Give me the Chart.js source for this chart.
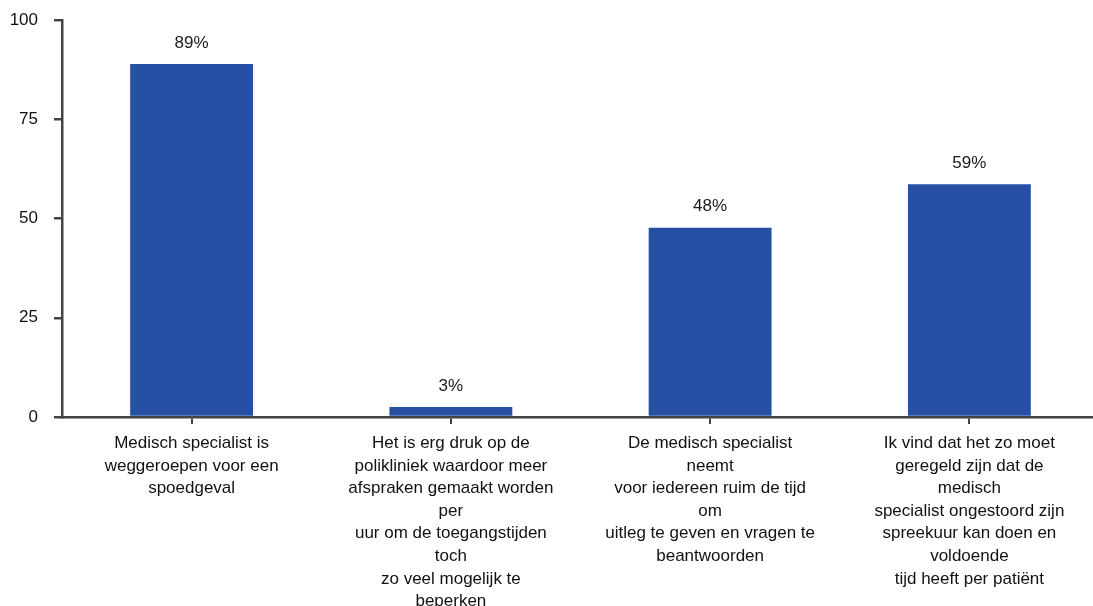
<!DOCTYPE html>
<html>
<head>
<meta charset="utf-8">
<script src="https://cdn.jsdelivr.net/npm/chart.js@4/dist/chart.umd.min.js"></script>
<style>
html,body{margin:0;padding:0;background:#fff;overflow:hidden;}
#wrap{position:relative;width:1100px;height:606px;}
</style>
</head>
<body>
<div id="wrap"><canvas id="c"></canvas></div>
<script>
const categories = [
  ["Medisch specialist is", "weggeroepen voor een", "spoedgeval"],
  ["Het is erg druk op de", "polikliniek waardoor meer", "afspraken gemaakt worden", "per", "uur om de toegangstijden", "toch", "zo veel mogelijk te", "beperken"],
  ["De medisch specialist", "neemt", "voor iedereen ruim de tijd", "om", "uitleg te geven en vragen te", "beantwoorden"],
  ["Ik vind dat het zo moet", "geregeld zijn dat de", "medisch", "specialist ongestoord zijn", "spreekuur kan doen en", "voldoende", "tijd heeft per patiënt"]
];
const values = [88.9, 2.5, 47.7, 58.6];
const yTicks = [0, 25, 50, 75, 100];

const FONT = "'Liberation Sans', Arial, Helvetica, sans-serif";
const AXIS = '#444444';

const valueLabels = {
  id: 'valueLabels',
  afterDatasetsDraw(chart) {
    const ctx = chart.ctx;
    const meta = chart.getDatasetMeta(0);
    ctx.save();
    ctx.font = '17px ' + FONT;
    ctx.fillStyle = '#1a1a1a';
    ctx.textAlign = 'center';
    ctx.textBaseline = 'middle';
    meta.data.forEach((bar, i) => {
      ctx.fillText(Math.round(values[i]) + '%', bar.x, bar.y - 21);
    });
    ctx.restore();
  }
};

new Chart(document.getElementById('c'), {
  type: 'bar',
  data: {
    labels: categories,
    datasets: [{
      data: values,
      backgroundColor: '#2550A4',
      borderWidth: 0,
      barPercentage: 0.474,
      categoryPercentage: 1.0
    }]
  },
  options: {
    responsive: true,
    maintainAspectRatio: false,
    animation: false,
    layout: { padding: { top: 20, right: 1, left: 0, bottom: 0 } },
    plugins: { legend: { display: false }, tooltip: { enabled: false } },
    scales: {
      x: {
        offset: true,
        grid: {
          offset: false,
          drawOnChartArea: false,
          drawTicks: true,
          tickLength: 7,
          color: AXIS,
          lineWidth: 2
        },
        border: { display: true, color: AXIS, width: 2.5 },
        ticks: {
          color: '#111',
          font: { family: FONT, size: 17, lineHeight: 1.33 },
          padding: 8,
          maxRotation: 0,
          autoSkip: false
        },
        afterFit(scale) { scale.height = 189; scale.paddingLeft = 0; scale.paddingRight = 0; }
      },
      y: {
        min: 0,
        max: 100,
        afterBuildTicks(scale) { scale.ticks = yTicks.map(v => ({ value: v })); },
        grid: {
          drawOnChartArea: false,
          drawTicks: true,
          tickLength: 8,
          color: AXIS,
          lineWidth: 2.5
        },
        border: { display: true, color: AXIS, width: 2.5 },
        ticks: {
          color: '#111',
          font: { family: FONT, size: 17 },
          padding: 16
        },
        afterFit(scale) { scale.width = 62; scale.paddingTop = 0; scale.paddingBottom = 0; }
      }
    }
  },
  plugins: [valueLabels]
});
</script>
</body>
</html>
